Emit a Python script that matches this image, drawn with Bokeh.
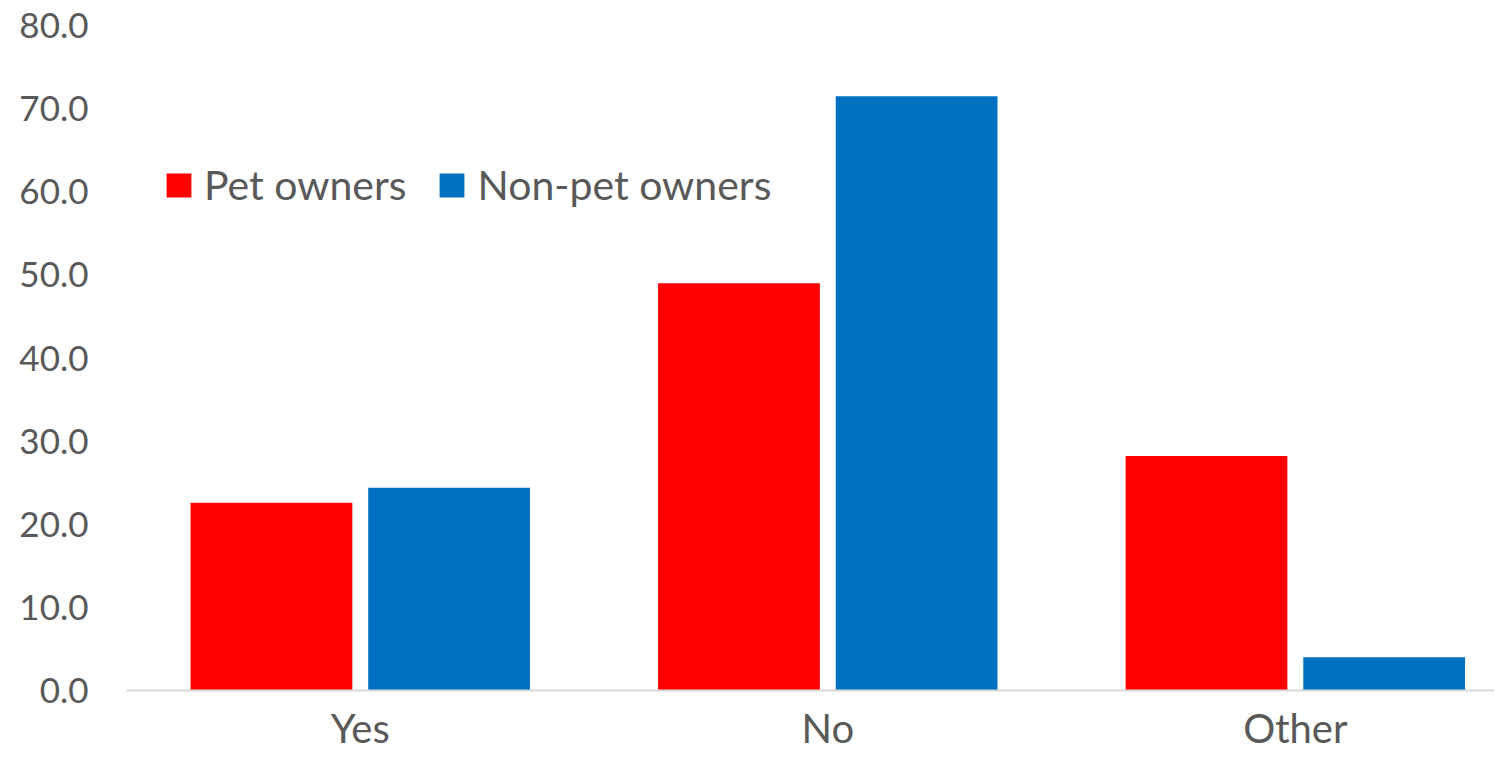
from bokeh.plotting import figure
from bokeh.models import ColumnDataSource, Range1d, FixedTicker, NumeralTickFormatter, Legend, LegendItem
from bokeh.embed import file_html
from bokeh.resources import INLINE

categories = ["Yes", "No", "Other"]
pet_owners = [22.6, 49.0, 28.2]
non_pet_owners = [24.4, 71.5, 4.0]
y_ticks = [0, 10, 20, 30, 40, 50, 60, 70, 80]

FONT = "Lato"
TXT = "#595959"

centers = [i + 0.5 for i in range(len(categories))]
off = 0.19
bw = 0.346

src = ColumnDataSource(dict(
    xr=[c - off for c in centers], xb=[c + off for c in centers],
    pet=pet_owners, non=non_pet_owners))

p = figure(width=1494, height=754, output_backend="svg", toolbar_location=None,
           x_range=Range1d(0, 2.926), y_range=Range1d(0, 80),
           min_border_left=126, min_border_right=0, min_border_top=25, min_border_bottom=64)
p.outline_line_color = None
p.xgrid.visible = False
p.ygrid.visible = False
p.border_fill_color = "white"

r1 = p.vbar(x="xr", top="pet", width=bw, source=src, color="#FF0000", line_color=None)
r2 = p.vbar(x="xb", top="non", width=bw, source=src, color="#0070C0", line_color=None)

p.xaxis.ticker = FixedTicker(ticks=centers)
p.xaxis.major_label_overrides = {c: lab for c, lab in zip(centers, categories)}
p.xaxis.axis_line_color = "#D9D9D9"
p.xaxis.axis_line_width = 2
p.xaxis.major_tick_line_color = None
p.xaxis.major_tick_out = 0
p.xaxis.minor_tick_line_color = None
p.xaxis.major_label_text_font = FONT
p.xaxis.major_label_text_font_size = "40px"
p.xaxis.major_label_text_color = TXT
p.xaxis.major_label_standoff = 13

p.yaxis.ticker = FixedTicker(ticks=y_ticks)
p.yaxis.formatter = NumeralTickFormatter(format="0.0")
p.yaxis.axis_line_color = None
p.yaxis.major_tick_line_color = None
p.yaxis.major_tick_out = 0
p.yaxis.minor_tick_line_color = None
p.yaxis.major_label_text_font = FONT
p.yaxis.major_label_text_font_size = "35px"
p.yaxis.major_label_text_color = TXT
p.yaxis.major_label_standoff = 38

legend = Legend(items=[LegendItem(label="Pet owners", renderers=[r1]),
                       LegendItem(label="Non-pet owners", renderers=[r2])],
                orientation="horizontal", location=(37, 481),
                glyph_width=31, glyph_height=30, label_standoff=10, spacing=30,
                padding=0, margin=0, border_line_color=None, background_fill_alpha=0,
                label_text_font=FONT, label_text_font_size="41px", label_text_color=TXT)
p.add_layout(legend)

open("out.html", "w").write(file_html(p, INLINE))
